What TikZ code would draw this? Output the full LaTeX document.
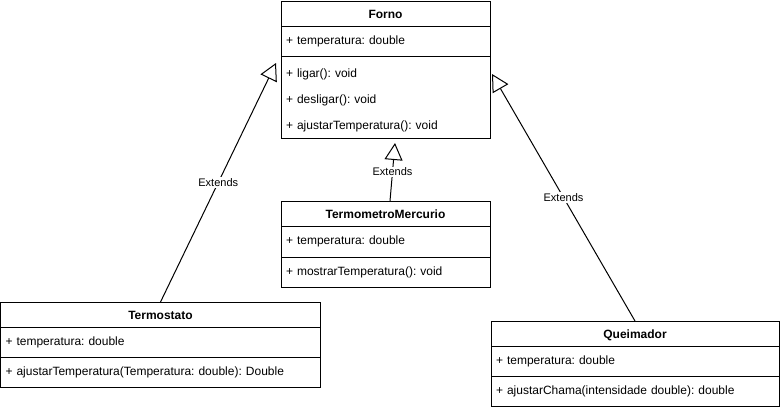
\documentclass[tikz,border=0pt]{standalone}
\usepackage{fontspec}
\setmainfont{Liberation Sans}
\frenchspacing
\usetikzlibrary{arrows.meta}
\usetikzlibrary{positioning}
\tikzstyle{classname} = [rectangle, draw=black, line width=1pt, fill=white, inner sep=0pt, outer sep=0pt, minimum height=25pt, text height=9pt, text depth=0pt, font=\bfseries\fontsize{12pt}{14pt}\selectfont]
\tikzstyle{classpart} = [rectangle, draw=black, line width=1pt, fill=white, inner xsep=5pt, inner ysep=0pt, outer sep=0pt, align=left, minimum height=30pt, font=\fontsize{12pt}{26pt}\selectfont]
\tikzstyle{extends} = [line width=1pt, -{Triangle[open, length=17pt, width=18pt]}]
\tikzstyle{extlabel} = [fill=white, inner sep=1pt, font=\fontsize{11pt}{13pt}\selectfont]

\begin{document}
\begin{tikzpicture}[x=1pt, y=-1pt, node distance=0pt]

    \useasboundingbox (0,0) rectangle (781,410);

    % Forno
    \node (forno) [classname, minimum width=209pt] at (385.5, 13.5) {Forno};
    \node (forno-attr) [classpart, text width=199pt, below=of forno] {+ temperatura: double};
    \node (forno-ops) [classpart, text width=199pt, minimum height=82pt, below=of forno-attr]
        {\rule{0pt}{15pt}+ ligar(): void\\+ desligar(): void\\+ ajustarTemperatura(): void};

    % TermometroMercurio
    \node (termometro) [classname, minimum width=209pt] at (385.5, 213.5) {TermometroMercurio};
    \node (termometro-attr) [classpart, text width=199pt, minimum height=31pt, below=of termometro] {+ temperatura: double};
    \node (termometro-ops) [classpart, text width=199pt, below=of termometro-attr] {+ mostrarTemperatura(): void};

    % Termostato
    \node (termostato) [classname, minimum width=320pt] at (160.5, 314.5) {Termostato};
    \node (termostato-attr) [classpart, text width=310pt, below=of termostato] {+ temperatura: double};
    \node (termostato-ops) [classpart, text width=310pt, below=of termostato-attr] {+ ajustarTemperatura(Temperatura: double): Double};

    % Queimador
    \node (queimador) [classname, minimum width=288pt] at (635, 333.5) {Queimador};
    \node (queimador-attr) [classpart, text width=278pt, below=of queimador] {+ temperatura: double};
    \node (queimador-ops) [classpart, text width=278pt, below=of queimador-attr] {+ ajustarChama(intensidade double): double};

    % heranca
    \coordinate (forno-left) at (276, 63);
    \coordinate (forno-right) at (492, 74);
    \coordinate (forno-bottom) at (395, 143);
    \coordinate (termometro-top) at (390, 201);

    \draw [extends] (termostato.north) -- node [extlabel] (ext1) {Extends} (forno-left);
    \draw [extends] (termometro-top) -- node [extlabel] (ext2) {Extends} (forno-bottom);
    \draw [extends] (queimador.north) -- node [extlabel] (ext3) {Extends} (forno-right);

\end{tikzpicture}
\end{document}
